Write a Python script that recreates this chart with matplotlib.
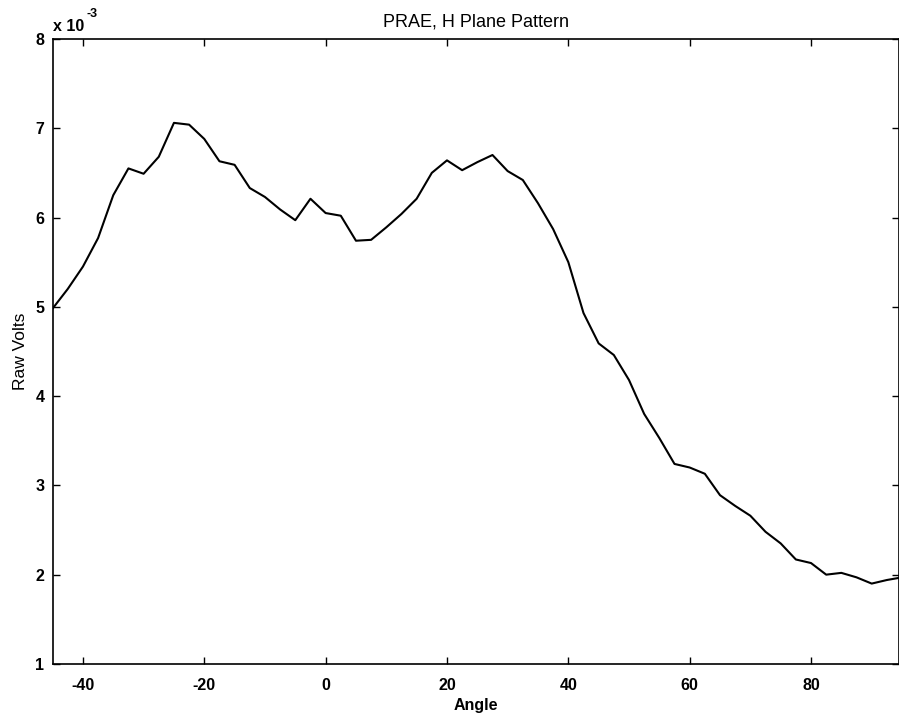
import matplotlib
matplotlib.use("Agg")
import matplotlib.pyplot as plt
from matplotlib.ticker import FuncFormatter

plt.rcParams['font.family'] = ['Liberation Sans', 'DejaVu Sans']
plt.rcParams['axes.unicode_minus'] = False

# angle in degrees, step 2.5
angle = [-45 + 2.5 * i for i in range(57)]
# raw volts (x 1e-3)
volts_m = [4.98, 5.20, 5.45, 5.77, 6.25, 6.55, 6.49, 6.68, 7.06, 7.04,
           6.88, 6.63, 6.59, 6.33, 6.23, 6.09, 5.97, 6.21, 6.05, 6.02,
           5.74, 5.75, 5.89, 6.04, 6.21, 6.50, 6.64, 6.53, 6.62, 6.70,
           6.52, 6.42, 6.16, 5.87, 5.50, 4.93, 4.59, 4.46, 4.18, 3.80,
           3.53, 3.24, 3.20, 3.13, 2.89, 2.77, 2.66, 2.48, 2.35, 2.17,
           2.13, 2.00, 2.02, 1.97, 1.90, 1.94, 1.97]
volts = [v * 1e-3 for v in volts_m]

fig = plt.figure(figsize=(8.99, 7.17), dpi=100)
ax = fig.add_axes([0.0585, 0.074, 0.9415, 0.8717])
ax.plot(angle, volts, color='black', linewidth=1.5)

ax.set_xlim(-45, 94.5)
ax.set_ylim(1e-3, 8e-3)
ax.set_xticks([-40, -20, 0, 20, 40, 60, 80])
ax.set_yticks([i * 1e-3 for i in range(1, 9)])
ax.yaxis.set_major_formatter(FuncFormatter(lambda v, p: "%d" % round(v * 1e3)))
ax.tick_params(direction='in', top=True, right=True, length=5, width=1,
               labelsize=11.5)
ax.tick_params(axis='x', pad=10)
ax.tick_params(axis='y', pad=6)
for lab in ax.get_xticklabels() + ax.get_yticklabels():
    lab.set_fontweight('bold')
for s in ax.spines.values():
    s.set_linewidth(1.2)

ax.set_xlabel("Angle", fontsize=11.5, fontweight='bold', labelpad=4)
ax.set_ylabel("Raw Volts", fontsize=12.5, labelpad=5)
ax.set_title("PRAE, H Plane Pattern", fontsize=13, pad=9)
ax.text(0.0, 1.008, "x 10", transform=ax.transAxes,
        fontsize=11.5, fontweight='bold', ha='left', va='bottom')
ax.text(0.04, 1.03, "-3", transform=ax.transAxes,
        fontsize=9, fontweight='bold', ha='left', va='bottom')

fig.savefig("out.png", dpi=100)
